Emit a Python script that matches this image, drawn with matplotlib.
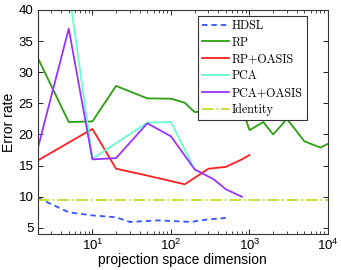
import matplotlib
matplotlib.use("Agg")
import matplotlib.pyplot as plt
from matplotlib.ticker import LogLocator, NullFormatter

hdsl_x = [2, 5, 10, 20, 30, 70, 180, 270, 500]
hdsl_y = [9.85, 7.5, 7.0, 6.7, 5.95, 6.2, 5.95, 6.3, 6.6]

rp_x = [2, 5, 10, 20, 50, 100, 150, 200, 500, 800, 1000, 1500, 2000, 3000, 5000, 8000, 10000]
rp_y = [32.4, 22.0, 22.1, 27.8, 25.8, 25.75, 25.1, 23.6, 24.0, 24.3, 20.7, 22.0, 20.0, 22.5, 18.9, 17.9, 18.5]

rpo_x = [2, 10, 20, 50, 150, 300, 500, 800, 1000]
rpo_y = [15.8, 20.9, 14.5, 13.4, 12.0, 14.5, 14.8, 16.0, 16.7]

pca_x = [5, 10, 50, 100, 200]
pca_y = [43.3, 16.1, 21.9, 22.0, 14.4]

pcao_x = [2, 5, 10, 20, 50, 100, 200, 350, 500, 800]
pcao_y = [17.6, 37.0, 16.0, 16.2, 21.8, 19.7, 14.4, 12.8, 11.2, 10.0]

identity_y = 9.4

labels = ["HDSL", "RP", "RP+OASIS", "PCA", "PCA+OASIS", "Identity"]
yticks = [5, 10, 15, 20, 25, 30, 35, 40]

plt.rcParams['font.family'] = ['Liberation Sans', 'DejaVu Sans']
plt.rcParams['mathtext.fontset'] = 'custom'
plt.rcParams['mathtext.rm'] = 'Liberation Sans'
plt.rcParams['mathtext.it'] = 'Liberation Sans:italic'
plt.rcParams['mathtext.bf'] = 'Liberation Sans:bold'

fig = plt.figure(figsize=(3.41, 2.70), dpi=100)
ax = fig.add_axes([0.110, 0.133, 0.852, 0.830])

lw = 1.3
ax.plot(hdsl_x, hdsl_y, color='#3355ff', ls='--', lw=lw, dashes=(3, 2.2), label=labels[0])
ax.plot(rp_x, rp_y, color='#2ca012', lw=lw, label=labels[1])
ax.plot(rpo_x, rpo_y, color='#ff2020', lw=lw, label=labels[2])
ax.plot(pca_x, pca_y, color='#66ffcc', lw=lw, label=labels[3])
ax.plot(pcao_x, pcao_y, color='#9933ff', lw=lw, label=labels[4])
ax.axhline(identity_y, color='#c8dc28', ls='-.', lw=lw, label=labels[5])

ax.set_xscale('log')
ax.set_xlim(2, 1e4)
ax.set_ylim(4, 40)
ax.set_yticks(yticks)
ax.xaxis.set_minor_locator(LogLocator(base=10, subs=range(2, 10), numticks=20))
ax.xaxis.set_minor_formatter(NullFormatter())
ax.tick_params(which='both', direction='in', top=True, right=True, labelsize=9.5)
ax.tick_params(which='major', length=3.5, width=0.6, pad=3)
ax.tick_params(which='minor', length=2, width=0.5)
for s in ax.spines.values():
    s.set_linewidth(0.8)
    s.set_color('#333333')

ax.set_xlabel('projection space dimension', fontsize=10, labelpad=-0.5)
ax.set_ylabel('Error rate', fontsize=10, labelpad=2)

leg = ax.legend(loc='upper left', bbox_to_anchor=(0.552, 0.975),
                prop={'family': 'cmr10', 'size': 8.7}, frameon=True, fancybox=False,
                edgecolor='#333333', framealpha=1, handlelength=2.2, handletextpad=0.25,
                labelspacing=0.38, borderpad=0.35, borderaxespad=0)
leg.get_frame().set_linewidth(0.8)

fig.savefig('out.png', dpi=100)
